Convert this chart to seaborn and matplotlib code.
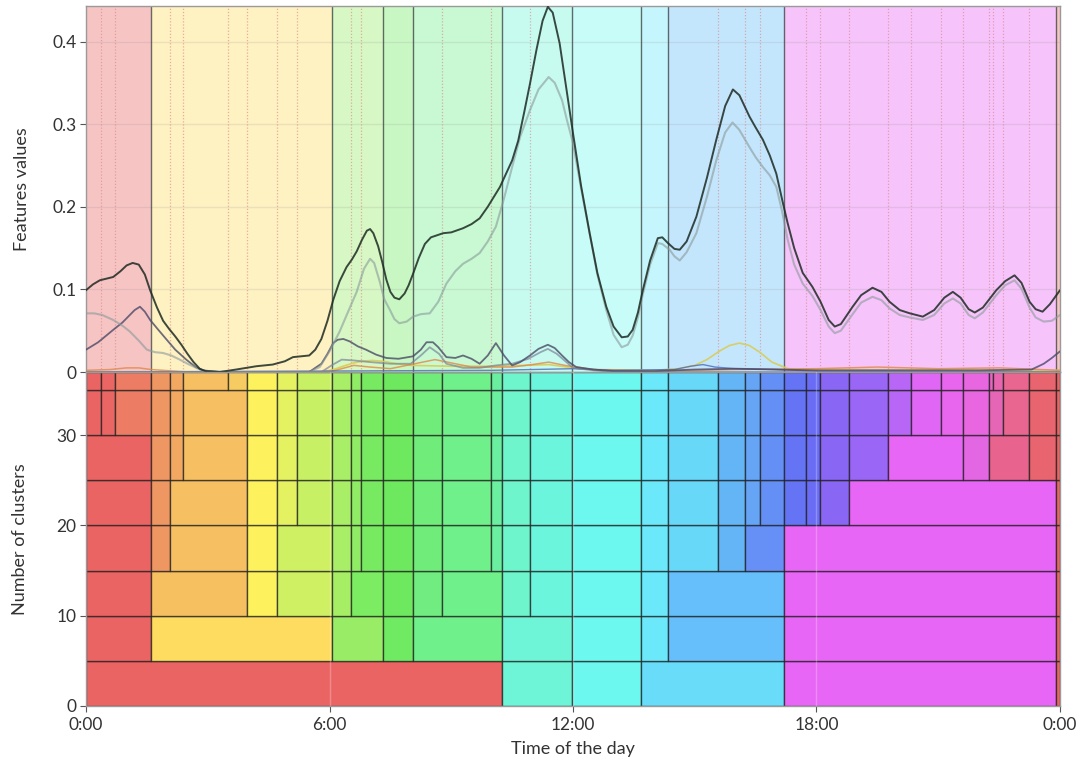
import numpy as np
import pandas as pd
import matplotlib
matplotlib.use("Agg")
import matplotlib.pyplot as plt
import seaborn as sns

# ---------------- data ----------------
# cluster segment boundaries (hours) for each level of the hierarchy (bottom row first)
row0_bounds = [0, 10.259, 11.983, 13.687, 17.204, 23.9, 24]
row0_colors = ["#eb6464", "#6ef5d8", "#6cf8ee", "#68dcf9", "#e866f5", "#eb6464"]

row1_bounds = [0, 1.594, 6.052, 7.328, 8.062, 10.259, 11.983, 13.687, 14.342, 17.204, 23.9, 24]
row1_colors = ["#eb6464", "#fddc5f", "#98ec66", "#70ea62", "#70f08a", "#6ef5d8", "#6cf8ee",
               "#6be9fb", "#66bffa", "#e866f5", "#eb6464"]

row2_bounds = [0, 1.594, 3.973, 4.697, 6.052, 6.525, 7.328, 8.062, 8.761, 10.259, 10.936,
               11.983, 13.687, 14.342, 17.204, 23.9, 24]
row2_colors = ["#eb6464", "#f6c060", "#fdf25e", "#d0f064", "#a6ee64", "#7cec62", "#6ee85f",
               "#70ec80", "#70f08a", "#6ef5cc", "#6cf5dd", "#6cf8ee", "#6be9fb", "#66bffa",
               "#e866f5", "#eb6464"]

row3_bounds = [0, 1.594, 2.069, 3.973, 4.697, 6.052, 6.525, 6.786, 7.328, 8.062, 8.761, 9.968,
               10.259, 10.936, 11.983, 13.687, 14.342, 15.574, 16.244, 17.204, 23.9, 24]
row3_colors = ["#eb6464", "#ef9762", "#f6c062", "#fdf25e", "#d0f064", "#a8ee66", "#90ec64",
               "#78ea62", "#6ee85f", "#70ec7a", "#70f08a", "#6aeea0", "#6ef5cc", "#6cf5dd",
               "#6cf8ee", "#6be9fb", "#68d8f9", "#63b5f6", "#6690f6", "#e866f5", "#eb6464"]

row4_bounds = [0, 1.594, 2.069, 3.973, 4.697, 5.204, 6.052, 6.525, 6.786, 7.328, 8.062, 8.761,
               9.968, 10.259, 10.936, 11.983, 13.687, 14.342, 15.574, 16.244, 16.613, 17.204,
               17.734, 18.079, 18.8, 23.9, 24]
row4_colors = ["#eb6464", "#ef9762", "#f6c062", "#fdf25e", "#e4f262", "#c8f064", "#a8ee66",
               "#90ec64", "#78ea62", "#6ee85f", "#70ec7a", "#70f08a", "#6aeea0", "#6ef5cc",
               "#6cf5dd", "#6cf8ee", "#6be9fb", "#68d8f9", "#63b5f6", "#66a5f5", "#6490f5",
               "#6474f5", "#6a6cf5", "#8a66f5", "#e866f5", "#eb6464"]

row5_bounds = [0, 1.594, 2.069, 2.397, 3.973, 4.697, 5.204, 6.052, 6.525, 6.786, 7.328, 8.062,
               8.761, 9.968, 10.259, 10.936, 11.983, 13.687, 14.342, 15.574, 16.244, 16.613,
               17.204, 17.734, 18.079, 18.8, 19.77, 21.62, 22.25, 23.24, 23.9, 24]
row5_colors = ["#eb6464", "#ef9762", "#f3a862", "#f6c062", "#fdf25e", "#e4f262", "#c8f064",
               "#a8ee66", "#90ec64", "#78ea62", "#6ee85f", "#70ec7a", "#70f08a", "#6aeea0",
               "#6ef5cc", "#6cf5dd", "#6cf8ee", "#6be9fb", "#68d8f9", "#63b5f6", "#66a5f5",
               "#6490f5", "#6474f5", "#6a6cf5", "#8a66f5", "#9a66f5", "#e866f5", "#e366e3",
               "#e8648f", "#e8646e", "#eb6464"]

row6_bounds = [0, 0.362, 0.714, 1.594, 2.069, 2.397, 3.973, 4.697, 5.204, 6.052, 6.525, 6.786,
               7.328, 8.062, 8.761, 9.968, 10.259, 10.936, 11.983, 13.687, 14.342, 15.574,
               16.244, 16.613, 17.204, 17.734, 18.079, 18.8, 19.77, 20.33, 21.06, 21.62, 22.25,
               22.59, 23.24, 23.9, 24]
row6_colors = ["#eb6464", "#ea6664", "#ec7c64", "#ef9762", "#f3a862", "#f6c062", "#fdf25e",
               "#e4f262", "#c8f064", "#a8ee66", "#90ec64", "#78ea62", "#6ee85f", "#70ec7a",
               "#70f08a", "#6aeea0", "#6ef5cc", "#6cf5dd", "#6cf8ee", "#6be9fb", "#68d8f9",
               "#63b5f6", "#66a5f5", "#6490f5", "#6474f5", "#6a6cf5", "#8a66f5", "#9a66f5",
               "#b866f5", "#e066f5", "#e866ee", "#e866e0", "#e566b4", "#e86690", "#e8646e",
               "#eb6464"]

row7_bounds = [0, 0.362, 0.714, 1.594, 2.069, 2.397, 3.505, 3.973, 4.697, 5.204, 6.052, 6.525,
               6.786, 7.328, 8.062, 8.761, 9.968, 10.259, 10.936, 11.983, 13.687, 14.342,
               15.574, 16.244, 16.613, 17.204, 17.734, 18.079, 18.8, 19.77, 20.33, 21.06,
               21.62, 22.25, 22.34, 22.59, 23.24, 23.9, 24]
row7_colors = ["#eb6464", "#ea6664", "#ec7c64", "#ef9762", "#f3a862", "#f6c062", "#f6cc62",
               "#fdf25e", "#e4f262", "#c8f064", "#a8ee66", "#90ec64", "#78ea62", "#6ee85f",
               "#70ec7a", "#70f08a", "#6aeea0", "#6ef5cc", "#6cf5dd", "#6cf8ee", "#6be9fb",
               "#68d8f9", "#63b5f6", "#66a5f5", "#6490f5", "#6474f5", "#6a6cf5", "#8a66f5",
               "#9a66f5", "#b866f5", "#e066f5", "#e866ee", "#e866e0", "#e866c0", "#e866b0",
               "#e86690", "#e8646e", "#eb6464"]

row_levels = [0, 5, 10, 15, 20, 25, 30, 35]
row_tops = [5, 10, 15, 20, 25, 30, 35, 37]

# feature curves (hour, value)
dark_t = [0.0, 0.17, 0.34, 0.5, 0.67, 0.85, 1.0, 1.15, 1.3, 1.45, 1.58, 1.75, 1.9, 2.05, 2.2,
          2.35, 2.5, 2.65, 2.8, 2.95, 3.3, 3.7, 4.2, 4.6, 4.9, 5.1, 5.3, 5.5, 5.65, 5.8, 5.95,
          6.09, 6.25, 6.42, 6.55, 6.67, 6.8, 6.92, 7.0, 7.08, 7.2, 7.3, 7.4, 7.5, 7.6, 7.72,
          7.85, 7.95, 8.06, 8.2, 8.35, 8.5, 8.68, 8.8, 9.0, 9.29, 9.5, 9.7, 9.9, 10.05, 10.2,
          10.35, 10.5, 10.65, 10.8, 10.94, 11.1, 11.25, 11.38, 11.5, 11.67, 11.83, 12.0, 12.2,
          12.41, 12.6, 12.82, 13.0, 13.2, 13.35, 13.47, 13.6, 13.72, 13.9, 14.09, 14.2, 14.34,
          14.5, 14.63, 14.8, 15.04, 15.3, 15.53, 15.75, 15.94, 16.1, 16.35, 16.5, 16.68, 16.85,
          17.01, 17.17, 17.29, 17.45, 17.66, 17.9, 18.1, 18.3, 18.45, 18.6, 18.89, 19.1, 19.38,
          19.6, 19.8, 20.05, 20.3, 20.62, 20.9, 21.15, 21.36, 21.55, 21.75, 21.9, 22.1, 22.43,
          22.65, 22.88, 23.05, 23.25, 23.4, 23.57, 23.75, 24.0]
dark_v = [0.099, 0.106, 0.111, 0.113, 0.115, 0.122, 0.129, 0.132, 0.13, 0.118, 0.099, 0.078,
          0.062, 0.052, 0.043, 0.033, 0.022, 0.012, 0.004, 0.001, 0.0, 0.003, 0.007, 0.009,
          0.013, 0.018, 0.019, 0.02, 0.027, 0.04, 0.062, 0.087, 0.11, 0.127, 0.136, 0.146,
          0.16, 0.171, 0.173, 0.168, 0.152, 0.133, 0.112, 0.097, 0.09, 0.088, 0.095, 0.105,
          0.119, 0.138, 0.155, 0.163, 0.166, 0.168, 0.169, 0.174, 0.179, 0.186, 0.2, 0.212,
          0.224, 0.24, 0.256, 0.28, 0.315, 0.349, 0.39, 0.425, 0.442, 0.435, 0.398, 0.345,
          0.289, 0.225, 0.168, 0.12, 0.079, 0.055, 0.042, 0.043, 0.051, 0.072, 0.099, 0.135,
          0.162, 0.163, 0.156, 0.149, 0.148, 0.158, 0.188, 0.235, 0.281, 0.322, 0.342, 0.335,
          0.309, 0.296, 0.281, 0.262, 0.24, 0.205, 0.18, 0.15, 0.12, 0.103, 0.085, 0.063,
          0.055, 0.058, 0.079, 0.093, 0.102, 0.097, 0.085, 0.075, 0.071, 0.067, 0.075, 0.09,
          0.097, 0.09, 0.076, 0.072, 0.078, 0.099, 0.11, 0.117, 0.108, 0.085, 0.076, 0.073,
          0.082, 0.099]

gray_t = [0.0, 0.2, 0.4, 0.67, 0.9, 1.08, 1.3, 1.5, 1.7, 1.9, 2.1, 2.31, 2.5, 2.72, 2.9, 3.1,
          5.5, 5.76, 6.0, 6.25, 6.45, 6.67, 6.85, 7.0, 7.1, 7.24, 7.35, 7.49, 7.6, 7.72, 7.9,
          8.06, 8.25, 8.47, 8.68, 8.88, 9.1, 9.29, 9.5, 9.7, 9.9, 10.1, 10.3, 10.5, 10.7, 10.94,
          11.15, 11.4, 11.55, 11.73, 11.85, 12.0, 12.2, 12.41, 12.6, 12.82, 13.0, 13.2, 13.35,
          13.47, 13.6, 13.72, 13.9, 14.09, 14.2, 14.38, 14.5, 14.63, 14.8, 15.04, 15.3, 15.53,
          15.75, 15.93, 16.1, 16.35, 16.5, 16.68, 16.85, 17.01, 17.15, 17.29, 17.45, 17.66,
          17.9, 18.1, 18.3, 18.45, 18.6, 18.89, 19.1, 19.38, 19.6, 19.8, 20.05, 20.3, 20.62,
          20.9, 21.15, 21.36, 21.55, 21.75, 21.9, 22.1, 22.43, 22.65, 22.88, 23.05, 23.25,
          23.4, 23.6, 23.8, 24.0]
gray_v = [0.071, 0.071, 0.069, 0.063, 0.056, 0.049, 0.038, 0.027, 0.024, 0.023, 0.02, 0.015,
          0.01, 0.005, 0.001, 0.0, 0.0, 0.006, 0.025, 0.049, 0.072, 0.097, 0.125, 0.137, 0.132,
          0.109, 0.088, 0.075, 0.064, 0.059, 0.061, 0.067, 0.07, 0.071, 0.085, 0.107, 0.122,
          0.131, 0.137, 0.144, 0.158, 0.176, 0.21, 0.248, 0.285, 0.317, 0.342, 0.357, 0.35,
          0.329, 0.305, 0.277, 0.222, 0.168, 0.118, 0.075, 0.045, 0.03, 0.033, 0.044, 0.066,
          0.094, 0.13, 0.156, 0.155, 0.148, 0.14, 0.135, 0.145, 0.168, 0.212, 0.256, 0.29,
          0.302, 0.293, 0.272, 0.26, 0.248, 0.238, 0.224, 0.195, 0.16, 0.13, 0.107, 0.092,
          0.075, 0.055, 0.047, 0.05, 0.07, 0.084, 0.091, 0.087, 0.077, 0.069, 0.066, 0.063,
          0.069, 0.083, 0.089, 0.083, 0.069, 0.065, 0.072, 0.093, 0.105, 0.111, 0.101, 0.078,
          0.066, 0.061, 0.062, 0.069]

lineA_t = [0.0, 0.3, 0.67, 0.9, 1.08, 1.2, 1.33, 1.45, 1.58, 1.8, 1.99, 2.2, 2.47, 2.7, 2.88,
           3.3, 5.5, 5.8, 5.95, 6.09, 6.2, 6.34, 6.5, 6.7, 6.9, 7.15, 7.4, 7.7, 8.06, 8.25,
           8.39, 8.55, 8.68, 8.88, 9.1, 9.29, 9.5, 9.7, 9.9, 10.1, 10.3, 10.5, 10.7, 10.94,
           11.15, 11.38, 11.55, 11.73, 11.9, 12.08, 12.5, 13.0, 14.0, 15.0, 16.0, 17.0, 18.0,
           20.0, 22.0, 23.3, 23.6, 23.8, 24.0]
lineA_v = [0.027, 0.036, 0.051, 0.06, 0.069, 0.075, 0.079, 0.073, 0.063, 0.05, 0.039, 0.027,
           0.015, 0.006, 0.002, 0.0, 0.0, 0.01, 0.022, 0.035, 0.039, 0.04, 0.037, 0.031, 0.027,
           0.021, 0.017, 0.016, 0.019, 0.027, 0.036, 0.036, 0.03, 0.018, 0.017, 0.02, 0.016,
           0.01, 0.02, 0.035, 0.02, 0.008, 0.012, 0.02, 0.028, 0.033, 0.029, 0.02, 0.012, 0.006,
           0.003, 0.001, 0.001, 0.003, 0.004, 0.003, 0.002, 0.002, 0.002, 0.003, 0.01, 0.017,
           0.025]

lineB_t = [0.0, 3.0, 5.8, 6.05, 6.3, 6.6, 7.0, 7.5, 8.0, 8.25, 8.47, 8.7, 8.88, 9.29, 9.7,
           10.1, 10.5, 10.9, 11.2, 11.38, 11.6, 12.0, 12.5, 13.0, 24.0]
lineB_v = [0.0, 0.0, 0.0, 0.008, 0.015, 0.014, 0.012, 0.01, 0.01, 0.02, 0.03, 0.022, 0.01,
           0.005, 0.005, 0.008, 0.01, 0.016, 0.024, 0.028, 0.022, 0.005, 0.002, 0.0, 0.0]

yellow_t = [0.0, 5.8, 6.1, 6.4, 6.6, 6.8, 7.05, 7.3, 7.65, 8.0, 9.0, 10.0, 10.8, 11.4, 12.0,
            12.5, 14.0, 14.6, 15.0, 15.3, 15.6, 15.85, 16.1, 16.35, 16.6, 16.9, 17.3, 18.0, 24.0]
yellow_v = [0.0, 0.0, 0.003, 0.008, 0.011, 0.013, 0.014, 0.013, 0.01, 0.008, 0.007, 0.007,
            0.008, 0.009, 0.005, 0.003, 0.002, 0.004, 0.008, 0.015, 0.025, 0.032, 0.035, 0.032,
            0.024, 0.012, 0.004, 0.003, 0.002]

orange_t = [0.0, 0.6, 1.0, 1.3, 1.6, 2.5, 6.0, 6.3, 6.6, 7.0, 7.5, 8.1, 8.6, 9.0, 9.5, 10.5,
            11.0, 11.4, 11.8, 12.5, 14.0, 16.0, 18.0, 19.5, 21.0, 22.5, 24.0]
orange_v = [0.002, 0.003, 0.005, 0.005, 0.003, 0.0, 0.0, 0.004, 0.008, 0.006, 0.004, 0.01,
            0.015, 0.011, 0.006, 0.006, 0.009, 0.012, 0.008, 0.003, 0.001, 0.003, 0.004, 0.006,
            0.004, 0.005, 0.002]

blue_t = [0.0, 10.0, 12.0, 13.0, 14.5, 14.9, 15.2, 15.5, 16.0, 17.0, 18.0, 24.0]
blue_v = [0.0, 0.002, 0.004, 0.002, 0.003, 0.007, 0.009, 0.006, 0.004, 0.003, 0.001, 0.0]

xtick_vals = [0, 6, 12, 18, 24]
xtick_labels = ["0:00", "6:00", "12:00", "18:00", "0:00"]

# ---------------- style ----------------
sns.set_theme(style="white")
plt.rcParams["font.family"] = ["Lato", "DejaVu Sans"]

fig = plt.figure(figsize=(10.79, 7.65), dpi=100)
left, width = 86 / 1079, (1060 - 86) / 1079
ax1 = fig.add_axes([left, 1 - 372 / 765, width, (372 - 6) / 765])
ax2 = fig.add_axes([left, 1 - 706 / 765, width, (706 - 372) / 765], sharex=ax1)

all_bounds = [row0_bounds, row1_bounds, row2_bounds, row3_bounds, row4_bounds, row5_bounds,
              row6_bounds, row7_bounds]
all_colors = [row0_colors, row1_colors, row2_colors, row3_colors, row4_colors, row5_colors,
              row6_colors, row7_colors]

# ---- bottom panel: cluster rows ----
for b, c, y0, y1 in zip(all_bounds, all_colors, row_levels, row_tops):
    spans = [(b[i], b[i + 1] - b[i]) for i in range(len(b) - 1)]
    ax2.broken_barh(spans, (y0, y1 - y0), facecolors=c,
                    edgecolors=(0.1, 0.1, 0.1, 0.7), linewidth=1.0)

ax2.set_ylim(0, 37)
ax2.set_xlim(0, 24)
ax2.set_yticks([0, 10, 20, 30])
ax2.set_xticks(xtick_vals)
ax2.set_xticklabels(xtick_labels)
for xv in [6, 12, 18]:
    ax2.axvline(xv, color="white", alpha=0.25, lw=1, zorder=5)

# ---- top panel ----
finest = row7_bounds[1:-1]
major = row1_bounds[1:-1]
for i in range(len(row1_bounds) - 1):
    ax1.axvspan(row1_bounds[i], row1_bounds[i + 1], color=row1_colors[i], alpha=0.38,
                lw=0, zorder=0)
for yv in [0.1, 0.2, 0.3, 0.4]:
    ax1.axhline(yv, color="#808080", alpha=0.15, lw=1, zorder=1)
for xv in finest:
    if xv not in major:
        ax1.axvline(xv, color="#d88080", alpha=0.6, lw=0.9, ls=(0, (1, 1.5)), zorder=1)
for xv in major:
    ax1.axvline(xv, color="#404848", alpha=0.8, lw=1.0, zorder=2)

curves = [
    (yellow_t, yellow_v, "#d9cc55", 1.2, 0.9),
    (orange_t, orange_v, "#e0884a", 1.1, 0.8),
    (blue_t, blue_v, "#4a6ab8", 1.0, 0.8),
    (lineB_t, lineB_v, "#7a8498", 1.3, 0.7),
    (lineA_t, lineA_v, "#4a4a66", 1.3, 0.8),
    (gray_t, gray_v, "#8a9a9a", 1.5, 0.6),
    (dark_t, dark_v, "#1c2a22", 1.4, 0.85),
]
for t, v, col, lw, a in curves:
    df = pd.DataFrame({"t": t, "v": v})
    sns.lineplot(data=df, x="t", y="v", ax=ax1, color=col, lw=lw, alpha=a, zorder=3)

ax1.set_ylim(0, 0.443)
ax1.set_yticks([0, 0.1, 0.2, 0.3, 0.4])
ax1.set_yticklabels(["0", "0.1", "0.2", "0.3", "0.4"])
ax1.tick_params(axis="x", which="both", bottom=False, labelbottom=False)
ax1.set_xlabel("")

# ---- common styling ----
for ax in (ax1, ax2):
    for s in ax.spines.values():
        s.set_color("#9a9a9a")
        s.set_linewidth(1.0)
    ax.tick_params(axis="y", left=True, length=4, width=0.8, color="#555555",
                   labelsize=12.5, labelcolor="#333333", pad=3)
ax2.tick_params(axis="x", bottom=True, length=4, width=0.8, color="#555555",
                labelsize=12.5, labelcolor="#333333", pad=4)

ax1.set_ylabel("Features values", fontsize=13, color="#333333", labelpad=16)
ax2.set_ylabel("Number of clusters", fontsize=13, color="#333333", labelpad=20)
ax2.set_xlabel("Time of the day", fontsize=13, color="#333333", labelpad=6)
fig.align_ylabels([ax1, ax2])

fig.savefig("out.png", dpi=100)
